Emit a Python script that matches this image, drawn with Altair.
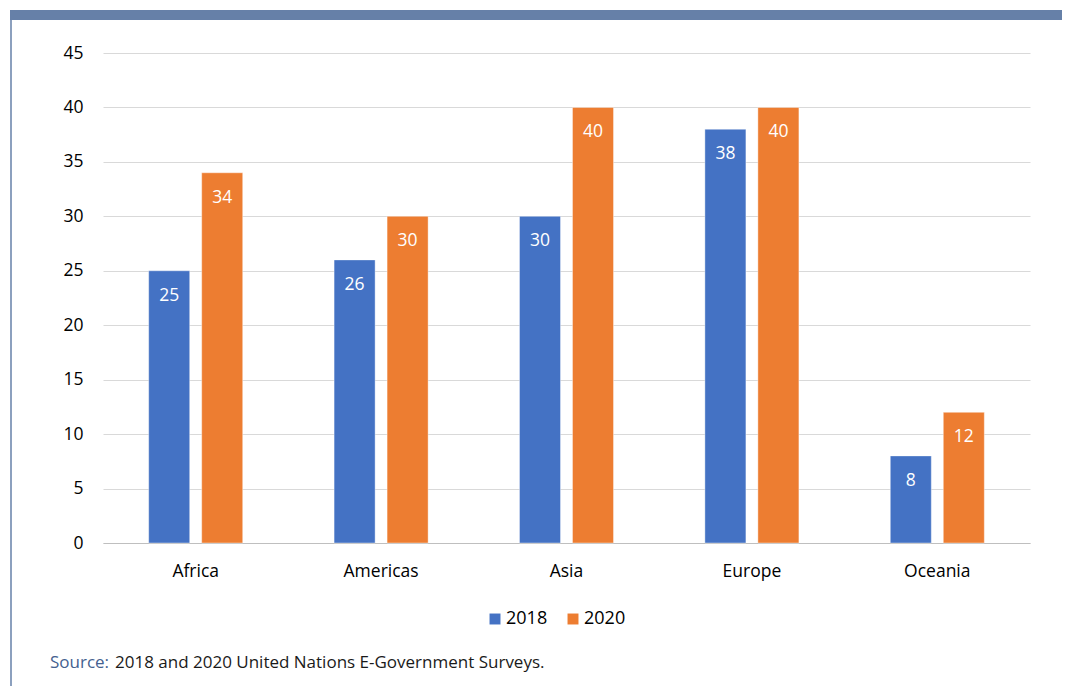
import altair as alt
import pandas as pd

regions = ["Africa", "Americas", "Asia", "Europe", "Oceania"]
years = ["2018", "2020"]
values_2018 = [25, 26, 30, 38, 8]
values_2020 = [34, 30, 40, 40, 12]
y_ticks = [0, 5, 10, 15, 20, 25, 30, 35, 40, 45]
source_label = "Source:"
source_text = "2018 and 2020 United Nations E-Government Surveys."

rows = []
for r, a, b in zip(regions, values_2018, values_2020):
    rows.append({"region": r, "year": "2018", "value": a})
    rows.append({"region": r, "year": "2020", "value": b})
df = pd.DataFrame(rows)

FONT = "Open Sans"
BLUE = "#4472C4"
ORANGE = "#ED7D31"
FRAME = "#6680A8"

x_enc = alt.X("region:N", sort=regions, title=None,
              scale=alt.Scale(paddingInner=0, paddingOuter=0),
              axis=alt.Axis(labelFont=FONT, labelFontSize=17.5, labelColor="#000000",
                            labelPadding=19, ticks=False, domainColor="#BFBFBF",
                            domainWidth=1.2, labelAngle=0, grid=False))
xoff_enc = alt.XOffset("year:N", sort=years,
                       scale=alt.Scale(paddingInner=0.226, paddingOuter=0.862))
y_enc = alt.Y("value:Q", title=None,
              scale=alt.Scale(domain=[0, 45], nice=False),
              axis=alt.Axis(values=y_ticks, labelFont=FONT, labelFontSize=17.5,
                            labelColor="#000000", labelPadding=20, ticks=False,
                            domain=False, gridColor="#D9D9D9", gridWidth=1.2))
color_enc = alt.Color("year:N", sort=years,
                      scale=alt.Scale(domain=years, range=[BLUE, ORANGE]),
                      legend=alt.Legend(orient="none", legendX=383, legendY=557,
                                        direction="horizontal", title=None,
                                        symbolType="square", symbolSize=120,
                                        symbolStrokeWidth=0,
                                        labelFont=FONT, labelFontSize=18,
                                        labelColor="#000000", labelOffset=2,
                                        columnPadding=16))

bars = alt.Chart(df).mark_bar(stroke="#ffffff", strokeOpacity=0.5, strokeWidth=0.8).encode(
    x=x_enc, xOffset=xoff_enc, y=y_enc, color=color_enc
)

labels = alt.Chart(df).mark_text(
    font=FONT, fontSize=17.5, color="#ffffff", baseline="middle", dy=25
).encode(
    x=alt.X("region:N", sort=regions),
    xOffset=alt.XOffset("year:N", sort=years),
    y="value:Q",
    text="value:Q",
)

top_bar = alt.Chart(pd.DataFrame({"k": [0]})).mark_rect(color=FRAME).encode(
    x=alt.value(-93), x2=alt.value(980), y=alt.value(-43), y2=alt.value(-33)
)
left_line = alt.Chart(pd.DataFrame({"k": [0]})).mark_rule(color=FRAME, strokeWidth=1.5).encode(
    x=alt.value(-92), y=alt.value(-33), y2=alt.value(660)
)
src1 = alt.Chart(pd.DataFrame({"t": [source_label]})).mark_text(
    font=FONT, fontSize=17, color="#44618F", align="left", baseline="middle"
).encode(x=alt.value(-53), y=alt.value(610), text="t:N")
src2 = alt.Chart(pd.DataFrame({"t": [source_text]})).mark_text(
    font=FONT, fontSize=17, color="#1a1a1a", align="left", baseline="middle"
).encode(x=alt.value(12), y=alt.value(610), text="t:N")

chart = alt.layer(top_bar, left_line, bars, labels, src1, src2).properties(
    width=927, height=490,
    autosize=alt.AutoSizeParams(type="none"),
    padding={"left": 95, "top": 45, "right": 32, "bottom": 143},
    background="#ffffff",
).configure_view(stroke=None)

chart.save("out.html", embed_options={"renderer": "svg", "actions": False})
